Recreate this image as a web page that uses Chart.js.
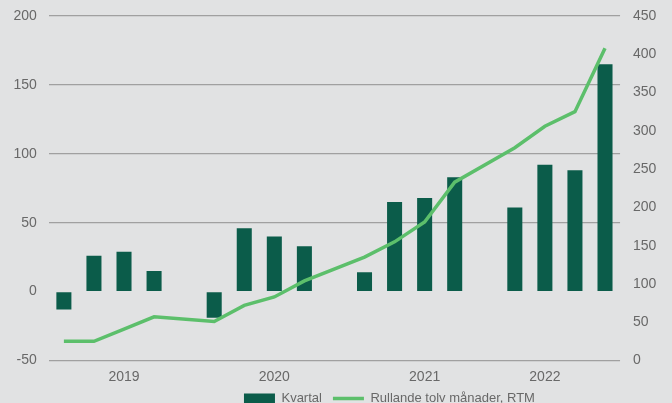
<!DOCTYPE html>
<html>
<head>
<meta charset="utf-8">
<script src="https://cdn.jsdelivr.net/npm/chart.js@4/dist/chart.umd.min.js"></script>
<style>
  html, body { margin: 0; padding: 0; background: #e1e2e3; overflow: hidden; }
  #wrap { width: 672px; height: 403px; overflow: hidden; }
</style>
</head>
<body>
<div id="wrap"><canvas id="myChart" width="672" height="415"></canvas></div>
<script>
// kvartal, en tom plats mellan varje år
var kvartal = ['', '', '2019', '', '', '', '', '2020', '', '', '', '', '2021', '', '', '', '2022', '', ''];
var kvartalVarde = [-13, 26, 29, 15, null, -19, 46, 40, 33, null, 14, 65, 68, 83, null, 61, 92, 88, 165];
var rtm = [25, 25, 41, 57, null, 51, 72, 83, 104, null, 135, 155, 181, 233, null, 278, 306, 325, 408];

var gra = '#686868';
var typsnitt = { family: "'Liberation Sans', Arial, sans-serif", size: 14 };

// flytta legenden lite åt höger
var flyttaLegend = {
  id: 'flyttaLegend',
  afterUpdate: function (chart) {
    chart.legend.left += 54;
    chart.legend.right += 54;
  }
};

function smalPadding(scale) {
  scale.paddingTop = 8;
  scale.paddingBottom = 8;
}

var ctx = document.getElementById('myChart').getContext('2d');
var myChart = new Chart(ctx, {
  type: 'bar',
  data: {
    labels: kvartal,
    datasets: [
      {
        label: 'Kvartal',
        data: kvartalVarde,
        yAxisID: 'y',
        backgroundColor: '#0b5c4a',
        borderWidth: 0,
        barPercentage: 0.5,
        categoryPercentage: 1,
        order: 2
      },
      {
        type: 'line',
        label: 'Rullande tolv månader, RTM',
        data: rtm,
        yAxisID: 'y1',
        borderColor: '#5cbf6b',
        backgroundColor: '#5cbf6b',
        borderWidth: 3.5,
        pointRadius: 0,
        spanGaps: true,
        tension: 0,
        order: 1
      }
    ]
  },
  options: {
    responsive: false,
    animation: false,
    layout: { padding: { left: 1.5, right: 2.6, top: 16, bottom: 0 } },
    plugins: {
      tooltip: { enabled: false },
      legend: {
        position: 'bottom',
        labels: {
          usePointStyle: true,
          pointStyleWidth: 31,
          boxHeight: 10,
          padding: 11,
          color: gra,
          font: { family: typsnitt.family, size: 13 },
          sort: function (a, b) { return a.datasetIndex - b.datasetIndex; },
          generateLabels: function (chart) {
            var items = Chart.defaults.plugins.legend.labels.generateLabels(chart);
            items.forEach(function (it) {
              it.pointStyle = it.datasetIndex === 0 ? 'rect' : 'line';
            });
            return items;
          }
        }
      }
    },
    scales: {
      x: {
        grid: { display: false, drawTicks: false },
        border: { display: false },
        ticks: { autoSkip: false, maxRotation: 0, color: gra, font: typsnitt, padding: 8.5 },
        afterFit: function (scale) { scale.height = 20.5; }
      },
      y: {
        position: 'left',
        min: -50,
        max: 200,
        grid: {
          drawTicks: false,
          lineWidth: 1.2,
          color: function (c) { return c.tick && c.tick.value === 0 ? 'rgba(0,0,0,0)' : '#a0a0a0'; }
        },
        border: { display: false },
        ticks: { stepSize: 50, color: gra, font: typsnitt, padding: 12 },
        afterFit: smalPadding
      },
      y1: {
        position: 'right',
        min: 0,
        max: 450,
        grid: { display: false, drawTicks: false },
        border: { display: false },
        ticks: { stepSize: 50, color: gra, font: typsnitt, padding: 13 },
        afterFit: smalPadding
      }
    }
  },
  plugins: [flyttaLegend]
});
</script>
</body>
</html>
